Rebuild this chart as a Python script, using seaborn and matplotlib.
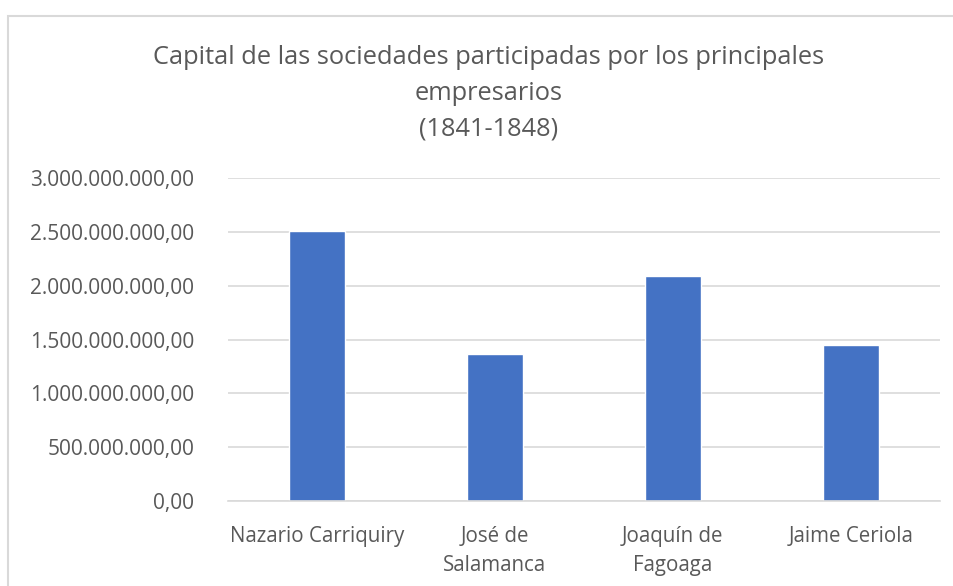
import matplotlib
matplotlib.use("Agg")
import matplotlib.pyplot as plt
import matplotlib.ticker as mticker
from matplotlib.patches import Rectangle
import pandas as pd
import seaborn as sns


empresarios = [
    "Nazario Carriquiry",
    "José de\nSalamanca",
    "Joaquín de\nFagoaga",
    "Jaime Ceriola",
]
capital = [2505000000, 1364000000, 2095000000, 1447000000]
y_ticks = [0, 500000000, 1000000000, 1500000000, 2000000000, 2500000000, 3000000000]

titulo = "Capital de las sociedades participadas por los principales\nempresarios\n(1841-1848)"

sns.set_theme(style="white")
plt.rcParams["font.family"] = ["Open Sans", "DejaVu Sans"]

GRIS_TEXTO = "#595959"
GRIS_LINEA = "#d9d9d9"


def formato_es(valor, pos=None):
    texto = f"{valor:,.2f}"
    return texto.replace(",", "X").replace(".", ",").replace("X", ".")


df = pd.DataFrame({"empresario": empresarios, "capital": capital})

fig = plt.figure(figsize=(9.54, 5.86), dpi=100)
ax = fig.add_axes([0.239, 0.145, 0.746, 0.551])

sns.barplot(
    data=df,
    x="empresario",
    y="capital",
    color="#4472C4",
    saturation=1,
    width=0.315,
    ax=ax,
)

ax.set_ylim(0, 3000000000)
ax.set_yticks(y_ticks)
ax.yaxis.set_major_formatter(mticker.FuncFormatter(formato_es))
ax.set_xlim(-0.5, 3.5)
ax.grid(axis="y", color=GRIS_LINEA, linewidth=1.2)
ax.set_axisbelow(True)

for lado in ["left", "right", "top"]:
    ax.spines[lado].set_visible(False)
ax.spines["bottom"].set_color(GRIS_LINEA)
ax.spines["bottom"].set_linewidth(1.2)

ax.set_xlabel("")
ax.set_ylabel("")
ax.tick_params(axis="y", length=0, pad=24.4, labelsize=15, labelcolor=GRIS_TEXTO)
ax.tick_params(axis="x", length=0, pad=18, labelsize=14.8, labelcolor=GRIS_TEXTO)
for etiqueta in ax.get_xticklabels():
    etiqueta.set_linespacing(1.5)
    etiqueta.set_verticalalignment("top")

fig.text(
    0.512, 0.923, titulo,
    ha="center", va="top",
    fontsize=18.3, color=GRIS_TEXTO,
    linespacing=1.55,
)

# borde del grafico (recortado a la derecha y abajo)
fig.patches.append(
    Rectangle(
        (8 / 954, -0.2), 1.2, 1.2 - 16 / 586,
        transform=fig.transFigure, fill=False,
        edgecolor=GRIS_LINEA, linewidth=1.5,
    )
)

fig.savefig("out.png", dpi=100)
plt.close(fig)
